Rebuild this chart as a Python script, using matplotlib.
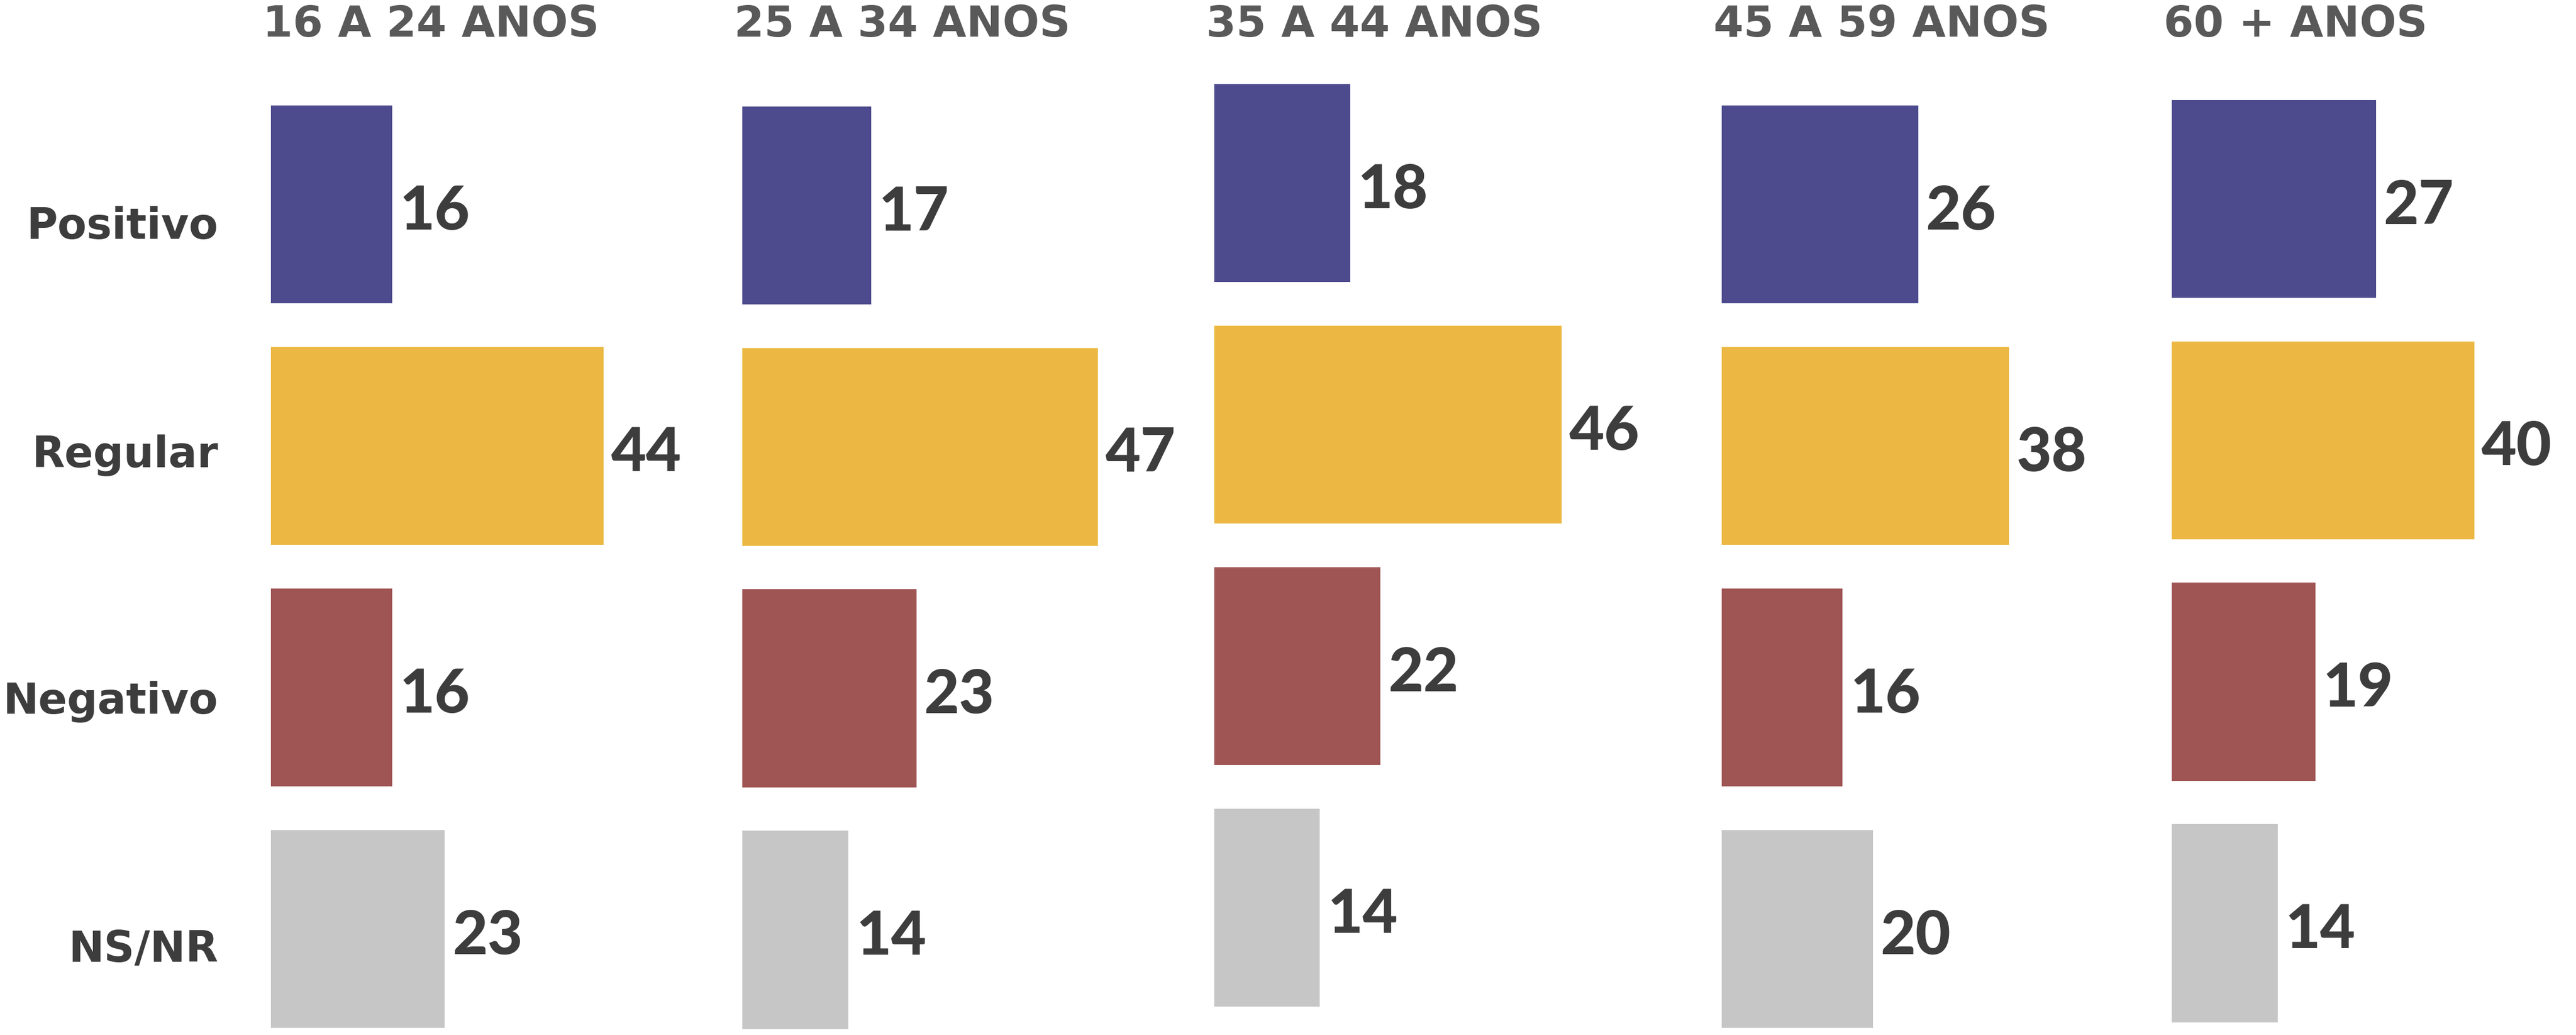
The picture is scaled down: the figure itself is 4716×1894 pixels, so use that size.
import matplotlib.pyplot as plt

# data
groups = ["16 A 24 ANOS", "25 A 34 ANOS", "35 A 44 ANOS", "45 A 59 ANOS", "60 + ANOS"]
categories = ["Positivo", "Regular", "Negativo", "NS/NR"]
positivo = [16, 17, 18, 26, 27]
regular = [44, 47, 46, 38, 40]
negativo = [16, 23, 22, 16, 19]
nsnr = [23, 14, 14, 20, 14]
colors = ["#4d4b8e", "#ecb843", "#a05555", "#c6c6c6"]

series = [positivo, regular, negativo, nsnr]

plt.rcParams['font.family'] = ['Lato', 'DejaVu Sans']

W, H = 1568.0, 630.0  # layout measured on reduced reference
fig = plt.figure(figsize=(47.16, 18.94), dpi=100)

# left edge of bars and centre of first bar per column (reference px)
col_left = [165, 452, 739, 1048, 1322]
col_c0 = [124.5, 125, 111.5, 124.5, 121]
row_step = 147.0
px_per_unit = 4.6
xmax = 62

for j, g in enumerate(groups):
    top = col_c0[j] - 0.5 * row_step
    bottom = col_c0[j] + 3.5 * row_step
    ax = fig.add_axes([col_left[j] / W, 1 - bottom / H,
                       xmax * px_per_unit / W, (bottom - top) / H])
    vals = [s[j] for s in series]
    ax.barh(range(4), vals, height=0.82, color=colors, left=0)
    for i, v in enumerate(vals):
        ax.text(v + 1.0, i + 0.03, str(v), ha="left", va="center",
                fontsize=80, fontweight="black", color="#3d3d3d")
    ax.set_xlim(0, xmax)
    ax.set_ylim(3.5, -0.5)
    ax.axis("off")
    ax.patch.set_alpha(0)

    fig.text((col_left[j] - 5) / W, 1 - 15 / H, g, ha="left", va="center",
             fontsize=57, fontweight="bold", color="#595959",
             family=["DejaVu Sans"])

label_y = [138, 277, 427, 578]
for c, y in zip(categories, label_y):
    fig.text(133 / W, 1 - y / H, c, ha="right", va="center",
             fontsize=56, fontweight="bold", color="#3d3d3d",
             family=["DejaVu Sans"])

fig.savefig("out.png", dpi=100)
